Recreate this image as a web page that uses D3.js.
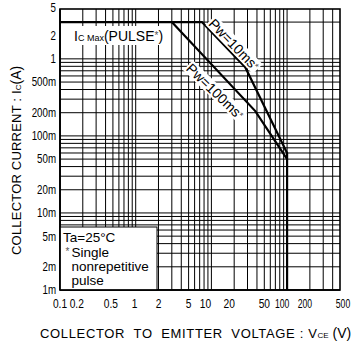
<!DOCTYPE html>
<html>
<head>
<meta charset="utf-8">
<script src="https://cdn.jsdelivr.net/npm/d3@7"></script>
<style>
  html, body { margin: 0; padding: 0; background: #fff; }
  svg { display: block; }
  .sans { font-family: "Liberation Sans", Arial, Helvetica, sans-serif; }
</style>
</head>
<body>
<svg id="chart" width="353" height="343"></svg>
<script>
// Safe operating area: collector current vs collector-emitter voltage (log-log)

// Axis ticks and labels
const vceTicks = [0.1, 0.2, 0.5, 1, 2, 5, 10, 20, 50, 100, 200, 500];
const vceTickLabels = ["0.1", "0.2", "0.5", "1", "2", "5", "10", "20", "50", "100", "200", "500"];
const vceTickNudge = [0, -6, -2, -1, 0, 0, -6, -5, 0, -5, -5, 3];
const icTicks = [5, 2, 1, 0.5, 0.2, 0.1, 0.05, 0.02, 0.01, 0.005, 0.002, 0.001];
const icTickLabels = ["5", "2", "1", "500m", "200m", "100m", "50m", "20m", "10m", "5m", "2m", "1m"];

// Grid positions (1..9 per decade)
const vceGrid = [0.1, 0.2, 0.3, 0.4, 0.5, 0.6, 0.7, 0.8, 0.9,
                 1, 2, 3, 4, 5, 6, 7, 8, 9,
                 10, 20, 30, 40, 50, 60, 70, 80, 90,
                 100, 200, 300, 400];
const icGrid = [0.001, 0.002, 0.003, 0.004, 0.005, 0.006, 0.007, 0.008, 0.009,
                0.01, 0.02, 0.03, 0.04, 0.05, 0.06, 0.07, 0.08, 0.09,
                0.1, 0.2, 0.3, 0.4, 0.5, 0.6, 0.7, 0.8, 0.9,
                1, 3];

// SOA boundaries (VCE in volts, IC in amperes)
const pw10Vce = [0.1, 7.5, 28, 100, 100];
const pw10Ic  = [3, 3, 0.78, 0.06, 0.001];
const pw100Vce = [3, 38, 100];
const pw100Ic  = [3, 0.21, 0.05];

// Curve label anchors
const pw10Label = { text: "Pw=10ms", vce: 19.9, ic: 1.53, angle: 46 };
const pw100Label = { text: "Pw=100ms", vce: 11.2, ic: 0.377, angle: 44 };

const svg = d3.select("#chart");
const plotLeft = 60, plotRight = 340, plotTop = 9, plotBottom = 290;

const x = d3.scaleLog().domain([0.1, 500]).range([plotLeft, plotRight]);
const y = d3.scaleLog().domain([0.001, 5]).range([plotBottom, plotTop - 4]);

// grid
const grid = svg.append("g").attr("stroke", "#000").attr("stroke-width", 1);
grid.selectAll("line.v").data(vceGrid).join("line")
  .attr("class", "v")
  .attr("x1", d => x(d)).attr("x2", d => x(d))
  .attr("y1", plotTop).attr("y2", plotBottom);
grid.selectAll("line.h").data(icGrid).join("line")
  .attr("class", "h")
  .attr("x1", plotLeft).attr("x2", plotRight)
  .attr("y1", d => y(d)).attr("y2", d => y(d));

// curves
const line = d3.line().x(d => x(d[0])).y(d => y(d[1]));
const pw10 = pw10Vce.map((v, i) => [v, pw10Ic[i]]);
const pw100 = pw100Vce.map((v, i) => [v, pw100Ic[i]]);
svg.append("path").attr("d", line(pw10))
  .attr("fill", "none").attr("stroke", "#000").attr("stroke-width", 2.2).attr("stroke-linejoin", "miter");
svg.append("path").attr("d", line(pw100))
  .attr("fill", "none").attr("stroke", "#000").attr("stroke-width", 2.2);

// frame
svg.append("rect").attr("x", plotLeft).attr("y", plotTop)
  .attr("width", plotRight - plotLeft).attr("height", plotBottom - plotTop)
  .attr("fill", "none").attr("stroke", "#000").attr("stroke-width", 1.6);

// IC max label
const icMax = svg.append("g");
icMax.append("rect").attr("x", 69).attr("y", 26).attr("width", 101).attr("height", 19).attr("fill", "#fff");
const icMaxText = icMax.append("text").attr("class", "sans").attr("x", 74).attr("y", 41)
  .attr("font-size", 14).attr("fill", "#000");
icMaxText.append("tspan").text("I");
icMaxText.append("tspan").attr("font-size", 9).text("C Max");
icMaxText.append("tspan").text("(PULSE");
icMaxText.append("tspan").attr("font-size", 10).attr("fill", "#555").attr("dy", -2).text("*");
icMaxText.append("tspan").attr("dy", 2).text(")");

// rotated curve labels
function curveLabel(lbl) {
  const g = svg.append("g")
    .attr("transform", `translate(${x(lbl.vce)},${y(lbl.ic)}) rotate(${lbl.angle})`);
  const t = g.append("text").attr("class", "sans").attr("font-size", 14)
    .attr("text-anchor", "middle").attr("dy", "0.35em");
  t.append("tspan").text(lbl.text);
  t.append("tspan").attr("font-size", 10).attr("fill", "#555").attr("dy", -2).text("*");
  const bb = t.node().getBBox();
  g.insert("rect", "text").attr("x", bb.x - 1).attr("y", bb.y + 1)
    .attr("width", bb.width + 2).attr("height", bb.height - 2).attr("fill", "#fff");
}
curveLabel(pw10Label);
curveLabel(pw100Label);

// condition box
const note = svg.append("g");
note.append("rect").attr("x", plotLeft).attr("y", 227).attr("width", 97).attr("height", plotBottom - 227)
  .attr("fill", "#fff").attr("stroke", "#000").attr("stroke-width", 1);
const noteText = note.append("g").attr("class", "sans").attr("font-size", 13.5).attr("fill", "#000");
noteText.append("text").attr("x", 63).attr("y", 242).text("Ta=25°C");
noteText.append("text").attr("x", 65.5).attr("y", 255).attr("font-size", 10).attr("fill", "#555").text("*");
noteText.append("text").attr("x", 71.5).attr("y", 256.5).text("Single");
noteText.append("text").attr("x", 71.5).attr("y", 271).text("nonrepetitive");
noteText.append("text").attr("x", 71.5).attr("y", 285).text("pulse");

// redraw frame edges over the box
svg.append("line").attr("x1", plotLeft).attr("x2", plotLeft).attr("y1", plotTop).attr("y2", plotBottom)
  .attr("stroke", "#000").attr("stroke-width", 1.6);
svg.append("line").attr("x1", plotLeft).attr("x2", plotRight).attr("y1", plotBottom).attr("y2", plotBottom)
  .attr("stroke", "#000").attr("stroke-width", 1.6);

// y tick labels (condensed)
svg.append("g").attr("class", "sans").attr("font-size", 12.5).attr("text-anchor", "end")
  .selectAll("text").data(icTicks).join("text")
  .attr("transform", d => `translate(56,${Math.max(y(d), 7.5)}) scale(0.78,1)`)
  .attr("dy", "0.35em")
  .text((d, i) => icTickLabels[i]);

// x tick labels (condensed, three-digit ones more so)
svg.append("g").attr("class", "sans").attr("font-size", 12).attr("text-anchor", "middle")
  .selectAll("text").data(vceTicks).join("text")
  .attr("transform", (d, i) => `translate(${x(d) + vceTickNudge[i]},308) scale(${d >= 100 ? 0.72 : 0.85},1)`)
  .text((d, i) => vceTickLabels[i]);

// axis titles
const xt = svg.append("text").attr("class", "sans").attr("x", 40).attr("y", 338)
  .attr("font-size", 13).attr("fill", "#000");
xt.append("tspan").attr("letter-spacing", 0.65).text("COLLECTOR\u00a0\u00a0TO\u00a0\u00a0EMITTER\u00a0\u00a0VOLTAGE : V");
xt.append("tspan").attr("font-size", 8).text("CE");
xt.append("tspan").attr("font-size", 14).text(" (V)");

const yt = svg.append("text").attr("class", "sans")
  .attr("transform", "translate(21,255) rotate(-90)")
  .attr("font-size", 13).attr("fill", "#000");
yt.append("tspan").attr("letter-spacing", 0.2).text("COLLECTOR CURRENT : I");
yt.append("tspan").attr("font-size", 8).text("C");
yt.append("tspan").attr("font-size", 14).text("(A)");
</script>
</body>
</html>
